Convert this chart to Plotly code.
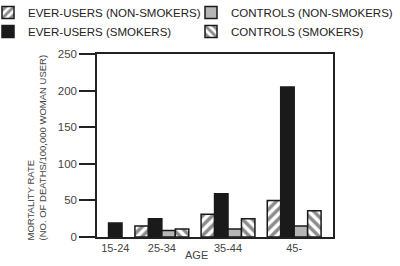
import plotly.graph_objects as go

# ---- data ----
age_groups = ["15-24", "25-34", "35-44", "45-"]
ever_users_non_smokers = [None, 15, 31, 50]
ever_users_smokers = [19, 25, 59, 205]
controls_non_smokers = [None, 9, 11, 15]
controls_smokers = [None, 11, 25, 36]
y_ticks = [0, 50, 100, 150, 200, 250]

# ---- layout helpers ----
group_x = [0.296, 1, 2, 3]  # group centre positions on numeric x axis
bw = 0.2035
ML, MR, MT, MB = 97, 67, 54, 29
W, H = 400, 266
PW, PH = W - ML - MR, H - MT - MB


def px_x(p):
    return (p - ML) / PW


def px_y(p):
    return (H - MB - p) / PH


FONT = "Liberation Sans, Arial, sans-serif"

series = [
    # name, values, slot, style, legend
    ("EVER-USERS (NON-SMOKERS)", ever_users_non_smokers, 0, "fwd", "legend"),
    ("EVER-USERS (SMOKERS)", ever_users_smokers, 1, "black", "legend"),
    ("CONTROLS (NON-SMOKERS)", controls_non_smokers, 2, "gray", "legend2"),
    ("CONTROLS (SMOKERS)", controls_smokers, 3, "back", "legend2"),
]

fig = go.Figure()
for name, vals, slot, style, leg in series:
    offsets = []
    for i, v in enumerate(vals):
        if i == 0:
            offsets.append(-bw / 2)  # single bar centred in first group
        else:
            offsets.append((slot - 2) * bw)
    marker = dict(line=dict(color="#1a1a1a", width=1.5))
    if style == "black":
        marker["color"] = "#1a1a1a"
    elif style == "gray":
        marker["color"] = "#b6b6b6"
    else:
        marker["color"] = "white"
        marker["pattern"] = dict(shape="/" if style == "fwd" else "\\",
                                 fgcolor="#1a1a1a", bgcolor="white",
                                 size=7, solidity=0.5)
    fig.add_trace(go.Bar(
        x=group_x, y=vals, name=name, width=bw, offset=offsets,
        marker=marker, legend=leg,
    ))

leg_common = dict(orientation="v", xanchor="left", yanchor="top",
                  font=dict(family=FONT, size=11.5, color="#222"),
                  tracegroupgap=0, itemclick=False, borderwidth=0,
                  bgcolor="rgba(0,0,0,0)")

fig.update_layout(
    width=W, height=H,
    margin=dict(l=ML, r=MR, t=MT, b=MB, autoexpand=False),
    paper_bgcolor="white", plot_bgcolor="white",
    barmode="overlay",
    font=dict(family=FONT, color="#333"),
    showlegend=True,
    legend=dict(x=px_x(-12), y=px_y(-2), **leg_common),
    legend2=dict(x=px_x(191), y=px_y(-2), **leg_common),
    xaxis=dict(range=[0.0196, 3.587], tickmode="array", tickvals=group_x,
               ticktext=age_groups, ticks="", showgrid=False, zeroline=False,
               showline=True, linecolor="#222", linewidth=1.5, mirror=True,
               tickfont=dict(family=FONT, size=11, color="#444")),
    yaxis=dict(range=[0, 250], tickmode="array", tickvals=y_ticks,
               ticks="outside", ticklen=16, tickwidth=1.5, tickcolor="#222",
               showgrid=False, zeroline=False,
               showline=True, linecolor="#222", linewidth=1.5, mirror=True,
               tickfont=dict(family=FONT, size=11.5, color="#444")),
    annotations=[
        dict(text="AGE", x=px_x(196), y=px_y(255), xref="paper", yref="paper",
             xanchor="center", yanchor="middle",
             showarrow=False, font=dict(family=FONT, size=11, color="#444")),
        dict(text="MORTALITY RATE<br>(NO. OF DEATHS/100,000 WOMAN USER)",
             textangle=-90, align="left", showarrow=False,
             xref="paper", yref="paper", x=px_x(35.5), y=px_y(147),
             xanchor="center", yanchor="middle",
             font=dict(family=FONT, size=9.5, color="#444")),
    ],
)

fig.write_html("out.html")
